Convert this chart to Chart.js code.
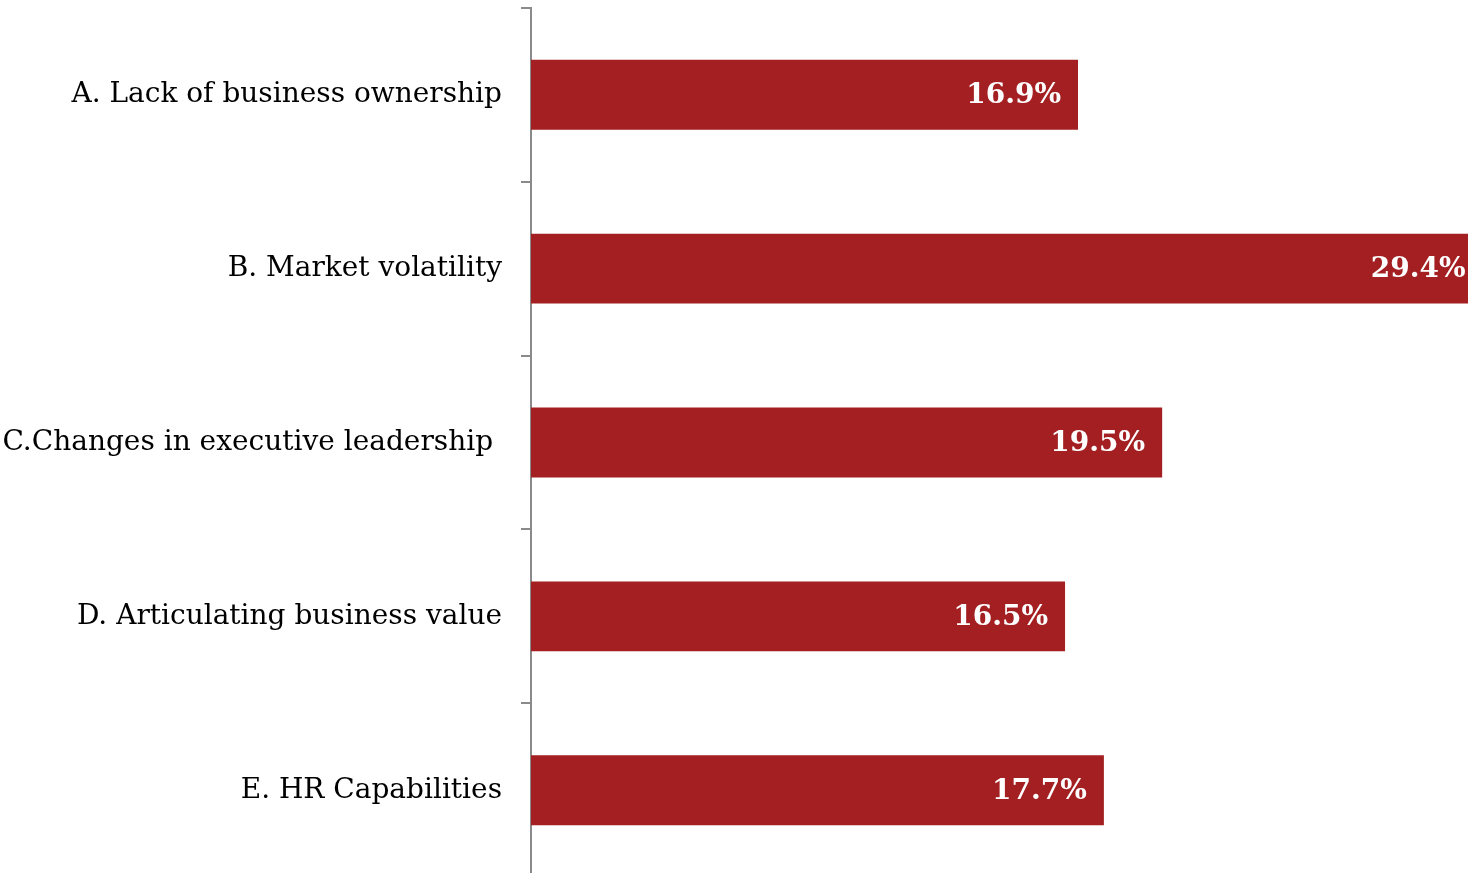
<!DOCTYPE html>
<html>
<head>
<meta charset="utf-8">
<script src="https://cdn.jsdelivr.net/npm/chart.js@4"></script>
<style>
  html, body { margin: 0; padding: 0; background: #fff; overflow: hidden; }
  #wrap { width: 1502px; height: 941px; margin-top: -28px; }
</style>
</head>
<body>
<div id="wrap"><canvas id="barChart" width="1502" height="941"></canvas></div>
<script>
const categories = [
  "A. Lack of business ownership",
  "B. Market volatility",
  "C.Changes in executive leadership ",
  "D. Articulating business value",
  "E. HR Capabilities",
];
const shares = [16.9, 29.4, 19.5, 16.5, 17.7];

const barRed = "rgb(163, 31, 33)";
const axisGray = "#8a8a8a";

// white value text inside the right end of each bar
const valueLabels = {
  id: "valueLabels",
  afterDatasetsDraw(chart) {
    const ctx = chart.ctx;
    const meta = chart.getDatasetMeta(0);
    ctx.save();
    ctx.fillStyle = "#ffffff";
    ctx.font = "bold 28px 'DejaVu Serif'";
    ctx.textAlign = "right";
    ctx.textBaseline = "middle";
    meta.data.forEach((bar, i) => {
      ctx.fillText(shares[i].toFixed(1) + "%", bar.x - 17, bar.y + 1);
    });
    ctx.restore();
  },
};

const ctx = document.getElementById("barChart").getContext("2d");
const chart = new Chart(ctx, {
  type: "bar",
  data: {
    labels: categories,
    datasets: [
      {
        data: shares,
        backgroundColor: barRed,
        borderWidth: 0,
        barPercentage: 70 / 174,
        categoryPercentage: 1,
      },
    ],
  },
  options: {
    indexAxis: "y",
    responsive: false,
    animation: false,
    layout: { padding: 0 },
    plugins: {
      legend: { display: false },
      tooltip: { enabled: false },
    },
    scales: {
      x: {
        min: 0,
        max: 30,
        display: false,
      },
      y: {
        afterFit(scale) {
          scale.width = 531;
        },
        border: { display: true, color: axisGray, width: 2 },
        grid: {
          offset: true,
          drawOnChartArea: false,
          drawTicks: true,
          tickLength: 10,
          color: axisGray,
          lineWidth: 2,
        },
        ticks: {
          color: "#000",
          padding: 19,
          font: { family: "'DejaVu Serif'", size: 28 },
        },
      },
    },
  },
  plugins: [valueLabels],
});
</script>
</body>
</html>
